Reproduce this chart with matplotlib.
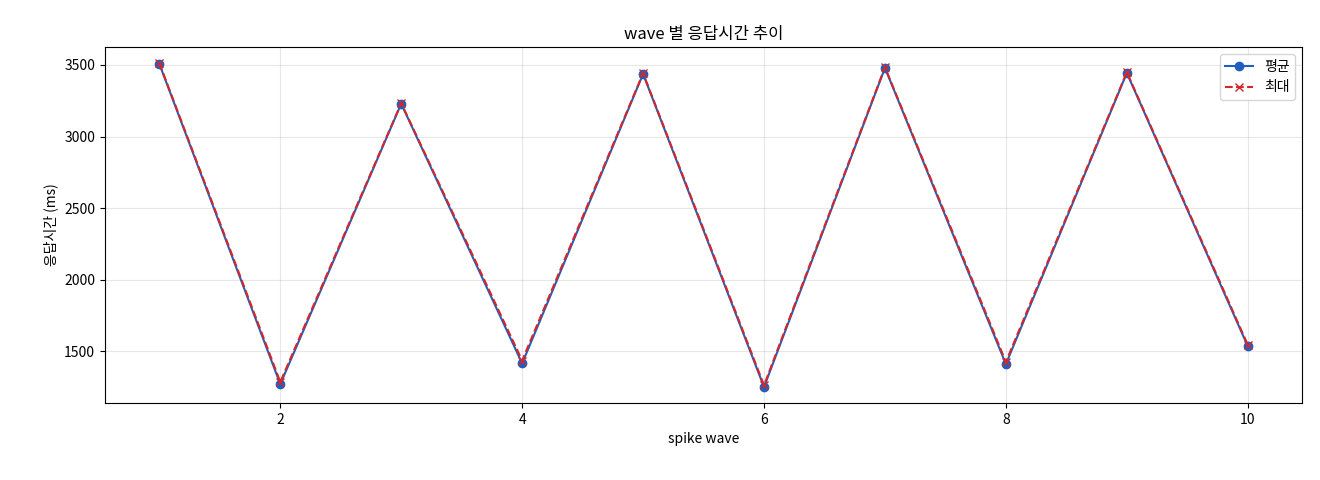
import matplotlib.pyplot as plt

plt.rcParams['font.family'] = ['Noto Sans CJK KR', 'DejaVu Sans']

waves = [1, 2, 3, 4, 5, 6, 7, 8, 9, 10]
avg_ms = [3507, 1270, 3229, 1415, 3437, 1250, 3479, 1410, 3444, 1535]
max_ms = [3512, 1285, 3233, 1435, 3442, 1262, 3484, 1425, 3449, 1545]

fig = plt.figure(figsize=(13.2, 4.8), dpi=100)
ax = fig.add_axes([0.0795, 0.16, 0.907, 0.742])
ax.plot(waves, avg_ms, marker='o', color='#1f5fbf', label='평균')
ax.plot(waves, max_ms, marker='x', linestyle='--', color='#d62728', label='최대')
ax.set_title('wave 별 응답시간 추이')
ax.set_xlabel('spike wave')
ax.set_ylabel('응답시간 (ms)')
ax.grid(True, alpha=0.3)
ax.legend(loc='upper right')

fig.savefig('out.png')
